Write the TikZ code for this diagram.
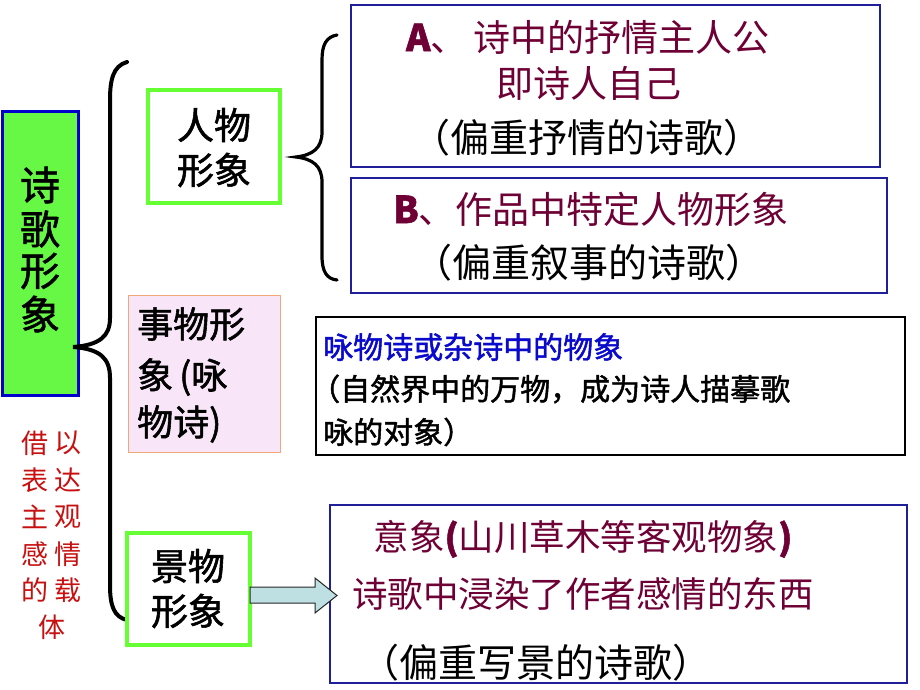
\documentclass[tikz,border=0pt]{standalone}
\usepackage{fontspec}
\setmainfont{Noto Sans CJK SC}
\newfontfamily\cjk{Noto Sans CJK SC}
\newfontfamily\cjkb[FakeBold=1.5]{Noto Sans CJK SC}
\definecolor{maroon}{HTML}{6E0035}
\definecolor{boxblue}{HTML}{1F1F99}
\definecolor{brightgreen}{HTML}{66FF33}
\definecolor{fillgreen}{HTML}{66F844}
\definecolor{txtblue}{HTML}{0A0ACC}
\definecolor{txtred}{HTML}{C81010}
\definecolor{pinkfill}{HTML}{F8E6F8}
\definecolor{orangeedge}{HTML}{F0A878}
\definecolor{arrowfill}{HTML}{BFE0E3}
\begin{document}
\begin{tikzpicture}[x=1pt,y=-1pt,
  box/.style={draw, rectangle, inner sep=0pt},
  bluebox/.style={box, draw=boxblue, line width=1.5pt},
  greenbox/.style={box, draw=brightgreen, line width=4pt, fill=white},
  line/.style={inner sep=0pt, anchor=center},
  lineL/.style={inner sep=0pt, anchor=west},
  big/.style={font=\cjkb\fontsize{37}{40}\selectfont},
  maro/.style={font=\cjk\fontsize{37}{40}\selectfont, text=maroon},
  kai/.style={font=\cjk\fontsize{39}{42}\selectfont},
  mid/.style={font=\cjkb\fontsize{30}{34}\selectfont},
  redt/.style={font=\cjk\fontsize{27}{30}\selectfont, text=txtred, inner sep=0pt},
  mainch/.style={inner sep=0pt, font=\cjkb\fontsize{40}{43}\selectfont},
  bracestyle/.style={line width=4pt, line cap=round}
]
\useasboundingbox[fill=white] (0,0) rectangle (920,690);

% left main box
\node[box, draw=blue!80!black, line width=3pt, fill=fillgreen, minimum width=76pt, minimum height=283pt] (main) at (40,253.5) {};
\node[mainch] (m1) at (40,185) {诗};
\node[mainch] (m2) at (40,229) {歌};
\node[mainch] (m3) at (40,271) {形};
\node[mainch] (m4) at (40,314) {象};

% big brace
\coordinate (bt) at (127,62);
\coordinate (btip) at (73,347);
\coordinate (bb) at (127,620);
\draw[bracestyle] (bt) .. controls (113,66) and (110,80) .. (110,100) -- (110,318)
  .. controls (110,336) and (100,345) .. (btip)
  .. controls (100,349) and (110,358) .. (110,378) -- (110,585)
  .. controls (110,606) and (114,617) .. (bb);

% 人物形象
\node[greenbox, minimum width=132pt, minimum height=113pt] (renwu) at (214,146.5) {};
\node[line, big] (r1) at (214,125) {人物};
\node[line, big] (r2) at (214,170) {形象};

% right brace
\coordinate (rt) at (337,35);
\coordinate (rtip) at (296,157);
\coordinate (rb) at (337,280);
\draw[line width=3.2pt, line cap=round] (rt) .. controls (326,37) and (322,45) .. (322,60) -- (322,132)
  .. controls (322,148) and (313,155) .. (rtip)
  .. controls (313,159) and (322,166) .. (322,182) -- (322,256)
  .. controls (322,272) and (327,279) .. (rb);

% Box A
\node[bluebox, minimum width=529pt, minimum height=162pt] (boxA) at (615.5,86) {};
\node[line, maro] (a1) at (588,37) {{\cjkb\textbf{A}}、\,诗中的抒情主人公};
\node[line, maro] (a2) at (589,83) {即诗人自己};
\node[line, kai] (a3) at (587,138) {（偏重抒情的诗歌）};

% Box B
\node[bluebox, minimum width=536pt, minimum height=115pt] (boxB) at (619,235.5) {};
\node[line, maro] (b1) at (591,209) {{\cjkb\textbf{B}}、作品中特定人物形象};
\node[line, kai] (b2) at (589,263) {（偏重叙事的诗歌）};

% 事物形象
\node[box, draw=orangeedge, line width=1pt, fill=pinkfill, minimum width=152pt, minimum height=157pt] (shiwu) at (204,373.5) {};
\node[lineL, font=\cjkb\fontsize{36}{40}\selectfont] (s1) at (137,324) {事物形};
\node[lineL, font=\cjkb\fontsize{36}{40}\selectfont] (s2) at (137,377) {象\,(咏};
\node[lineL, font=\cjkb\fontsize{36}{40}\selectfont] (s3) at (137,424) {物诗)};

% Box C
\node[box, draw=black, line width=1.2pt, minimum width=589pt, minimum height=138pt] (boxC) at (610.5,386) {};
\node[lineL, mid, text=txtblue] (c1) at (323,347) {咏物诗或杂诗中的物象};
\node[lineL, mid] (c2) at (310,389) {（自然界中的万物，成为诗人描摹歌};
\node[lineL, mid] (c3) at (323,432) {咏的对象）};

% red text
\node[redt] (t1) at (35,443) {借};
\node[redt] (t2) at (68,443) {以};
\node[redt] (t3) at (35,480) {表};
\node[redt] (t4) at (68,480) {达};
\node[redt] (t5) at (35,517) {主};
\node[redt] (t6) at (68,517) {观};
\node[redt] (t7) at (35,554) {感};
\node[redt] (t8) at (68,554) {情};
\node[redt] (t9) at (35,590) {的};
\node[redt] (t10) at (68,590) {载};
\node[redt] (t11) at (52,627) {体};

% 景物形象
\node[greenbox, minimum width=123pt, minimum height=112pt] (jingwu) at (188.5,589) {};
\node[line, big] (j1) at (188,566) {景物};
\node[line, big] (j2) at (188,611) {形象};

% Box D
\node[bluebox, minimum width=577pt, minimum height=178pt] (boxD) at (618.5,594) {};
\node[line, font=\cjk\fontsize{35.5}{38}\selectfont, text=maroon] (d1) at (583,539) {意象{\cjkb\textbf{(}}山川草木等客观物象{\cjkb\textbf{)}}};
\node[line, font=\cjk\fontsize{35.5}{38}\selectfont, text=maroon] (d2) at (583,594) {诗歌中浸染了作者感情的东西};
\node[lineL, kai] (d3) at (360,663) {（偏重写景的诗歌）};

% block arrow
\coordinate (a0) at (250,587);
\coordinate (a1s) at (315,587);
\coordinate (a2s) at (315,578);
\coordinate (atip) at (337,595.5);
\coordinate (a3s) at (315,613);
\coordinate (a4s) at (315,603);
\coordinate (a5) at (250,603);
\draw[draw=black!85, fill=arrowfill, line width=1pt]
  (a0) -- (a1s) -- (a2s) -- (atip) -- (a3s) -- (a4s) -- (a5) -- cycle;
\end{tikzpicture}
\end{document}
